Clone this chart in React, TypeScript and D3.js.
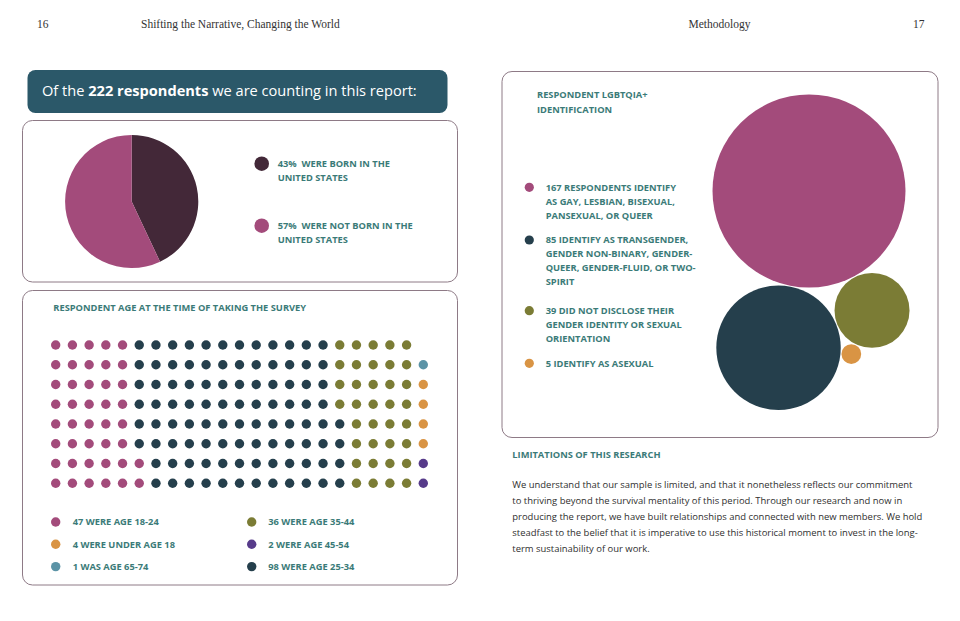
import React from "react";
import * as d3 from "d3";

// ---------- DATA ----------
const pieLabels = ["43%\u00a0 WERE BORN IN THE|UNITED STATES", "57%\u00a0 WERE NOT BORN IN THE|UNITED STATES"];
const pieValues = [43, 57];

const ageCategories = ["18-24", "25-34", "35-44", "45-54", "under 18", "65-74"];
const ageDotCounts = [42, 98, 36, 2, 4, 1]; // dots as drawn in the waffle, filled bottom-up by column
const ageLegendLeft = ["47 WERE AGE 18-24", "4 WERE UNDER AGE 18", "1 WAS AGE 65-74"];
const ageLegendLeftCat = ["18-24", "under 18", "65-74"];
const ageLegendRight = ["36 WERE AGE 35-44", "2 WERE AGE 45-54", "98 WERE AGE 25-34"];
const ageLegendRightCat = ["35-44", "45-54", "25-34"];

const lgbtCategories = ["gay", "trans", "undisclosed", "asexual"];
const lgbtValues = [167, 85, 39, 5];
const lgbtLabels = [
  ["167 RESPONDENTS IDENTIFY", "AS GAY, LESBIAN, BISEXUAL,", "PANSEXUAL, OR QUEER"],
  ["85 IDENTIFY AS TRANSGENDER,", "GENDER NON-BINARY, GENDER-", "QUEER, GENDER-FLUID, OR TWO-", "SPIRIT"],
  ["39 DID NOT DISCLOSE THEIR", "GENDER IDENTITY OR SEXUAL", "ORIENTATION"],
  ["5 IDENTIFY AS ASEXUAL"],
];

const bodyLines = [
  "We understand that our sample is limited, and that it nonetheless reflects our commitment",
  "to thriving beyond the survival mentality of this period. Through our research and now in",
  "producing the report, we have built relationships and connected with new members. We hold",
  "steadfast to the belief that it is imperative to use this historical moment to invest in the long-",
  "term sustainability of our work.",
];

// ---------- STYLE ----------
const PINK = "#a34b7b";
const SLATE = "#253f4c";
const OLIVE = "#7b7c35";
const ORANGE = "#d99444";
const PURPLE = "#573b8a";
const STEEL = "#5b93a6";
const PIEDARK = "#432838";
const TEAL = "#3b7b78";
const BORDER = "#8e7a86";
const HEADER = "#2b5869";
const SANS = "'Open Sans', 'Noto Sans', sans-serif";
const SERIF = "'Liberation Serif', 'DejaVu Serif', serif";

const ageColor = d3.scaleOrdinal<string, string>()
  .domain(ageCategories)
  .range([PINK, SLATE, OLIVE, PURPLE, ORANGE, STEEL]);
const lgbtColor = d3.scaleOrdinal<string, string>()
  .domain(lgbtCategories)
  .range([PINK, SLATE, OLIVE, ORANGE]);

type Circ = { x: number; y: number; r: number; c: string };

function tangent(a: Circ, b: Circ, r: number, pad: number, side: number) {
  const ra = a.r + r + pad, rb = b.r + r + pad;
  const dx = b.x - a.x, dy = b.y - a.y;
  const d = Math.hypot(dx, dy);
  const x = (d * d + ra * ra - rb * rb) / (2 * d);
  const h = Math.sqrt(Math.max(0, ra * ra - x * x));
  const ux = dx / d, uy = dy / d;
  return { x: a.x + ux * x - side * uy * h, y: a.y + uy * x + side * ux * h };
}

export default function App() {
  const W = 960, H = 621;

  // pie
  const pie = d3.pie<number>().sort(null).value((d) => d)(pieValues);
  const arc = d3.arc<d3.PieArcDatum<number>>().innerRadius(0).outerRadius(66.6);
  const pieColors = [PIEDARK, PINK];

  // waffle
  const nCols = 23, nRows = 8;
  const xW = d3.scalePoint<number>().domain(d3.range(nCols)).range([55.7, 423.3]);
  const yW = d3.scalePoint<number>().domain(d3.range(nRows)).range([345, 483.3]);
  const dots: { col: number; row: number; cat: string }[] = [];
  let k = 0;
  ageDotCounts.forEach((n, ci) => {
    for (let i = 0; i < n; i++, k++) {
      const col = Math.floor(k / nRows);
      const row = nRows - 1 - (k % nRows);
      dots.push({ col, row, cat: ageCategories[ci] });
    }
  });

  // bubbles
  const rScale = d3.scalePow().exponent(0.65).domain([0, d3.max(lgbtValues) as number]).range([0, 96.5]);
  const pad = 1;
  const ang = (101 * Math.PI) / 180;
  const c0: Circ = { x: 809, y: 191, r: rScale(lgbtValues[0]), c: lgbtColor(lgbtCategories[0]) };
  const r1 = rScale(lgbtValues[1]);
  const c1: Circ = {
    x: c0.x + (c0.r + r1 + pad) * Math.cos(ang),
    y: c0.y + (c0.r + r1 + pad) * Math.sin(ang),
    r: r1, c: lgbtColor(lgbtCategories[1]),
  };
  const r2 = rScale(lgbtValues[2]);
  const p2 = tangent(c0, c1, r2, pad, -1);
  const c2: Circ = { ...p2, r: r2, c: lgbtColor(lgbtCategories[2]) };
  const r3 = rScale(lgbtValues[3]);
  const p3 = tangent(c1, c2, r3, pad, 1);
  const c3: Circ = { ...p3, r: r3, c: lgbtColor(lgbtCategories[3]) };
  const bubbles = [c0, c1, c2, c3];

  const labelStyle = { fontFamily: SANS, fontWeight: 700, fontSize: 9.3, fill: TEAL } as const;

  const lgbtTop = [187.3, 240, 310.7, 363.3];

  return (
    <svg width={W} height={H} style={{ position: "absolute", left: 0, top: 0, background: "#fff" }}>
      <rect width={W} height={H} fill="#fff" />
      {/* page headers */}
      <g style={{ fontFamily: SERIF, fontSize: 11.5, fill: "#333" }}>
        <text x={37} y={28}>16</text>
        <text x={141} y={28}>Shifting the Narrative, Changing the World</text>
        <text x={688.5} y={28}>Methodology</text>
        <text x={913} y={28}>17</text>
      </g>

      {/* header banner */}
      <rect x={27.5} y={70} width={420} height={43} rx={8} fill={HEADER} />
      <text x={42} y={96} style={{ fontFamily: SANS, fontSize: 14.6, fill: "#fff" }}>
        Of the <tspan fontWeight={700}>222 respondents</tspan> we are counting in this report:
      </text>

      {/* box 1 : pie */}
      <rect x={22.5} y={120.5} width={435} height={161.5} rx={10} fill="none" stroke={BORDER} strokeWidth={1} />
      <g transform="translate(131.7,201.5)">
        {pie.map((p, i) => (
          <path key={i} d={arc(p) as string} fill={pieColors[i]} />
        ))}
      </g>
      {pieLabels.map((lab, i) => {
        const y0 = 163.7 + i * 62;
        return (
          <g key={i}>
            <circle cx={261.7} cy={y0} r={7.3} fill={pieColors[i]} />
            {lab.split("|").map((l, j) => (
              <text key={j} x={277.7} y={y0 + j * 14} dy="0.35em" style={labelStyle}>{l}</text>
            ))}
          </g>
        );
      })}

      {/* box 2 : waffle */}
      <rect x={22.5} y={290.5} width={435} height={294.5} rx={10} fill="none" stroke={BORDER} strokeWidth={1} />
      <text x={53.3} y={307.5} dy="0.35em" style={labelStyle}>RESPONDENT AGE AT THE TIME OF TAKING THE SURVEY</text>
      {dots.map((d, i) => (
        <circle key={i} cx={xW(d.col)} cy={yW(d.row)} r={4.7} fill={ageColor(d.cat)} />
      ))}
      {ageLegendLeft.map((l, i) => (
        <g key={"l" + i}>
          <circle cx={55.7} cy={522 + i * 22.3} r={4.7} fill={ageColor(ageLegendLeftCat[i])} />
          <text x={72.7} y={522 + i * 22.3} dy="0.35em" style={labelStyle}>{l}</text>
        </g>
      ))}
      {ageLegendRight.map((l, i) => (
        <g key={"r" + i}>
          <circle cx={251.7} cy={522 + i * 22.3} r={4.7} fill={ageColor(ageLegendRightCat[i])} />
          <text x={268.3} y={522 + i * 22.3} dy="0.35em" style={labelStyle}>{l}</text>
        </g>
      ))}

      {/* box 3 : bubbles */}
      <rect x={502} y={71.5} width={436} height={366} rx={10} fill="none" stroke={BORDER} strokeWidth={1} />
      <text x={537} y={95} dy="0.35em" style={labelStyle}>RESPONDENT LGBTQIA+</text>
      <text x={537} y={110} dy="0.35em" style={labelStyle}>IDENTIFICATION</text>
      {bubbles.map((b, i) => (
        <circle key={i} cx={b.x} cy={b.y} r={b.r} fill={b.c} />
      ))}
      {lgbtLabels.map((lines, i) => (
        <g key={i}>
          <circle cx={529.3} cy={lgbtTop[i]} r={4.6} fill={lgbtColor(lgbtCategories[i])} />
          {lines.map((l, j) => (
            <text key={j} x={545.7} y={lgbtTop[i] + j * 14} dy="0.35em" style={labelStyle}>{l}</text>
          ))}
        </g>
      ))}

      {/* limitations */}
      <text x={512.3} y={455} dy="0.35em" style={labelStyle}>LIMITATIONS OF THIS RESEARCH</text>
      {bodyLines.map((l, i) => (
        <text key={i} x={512.3} y={485 + i * 15.8} dy="0.35em"
          style={{ fontFamily: SANS, fontSize: 9.45, fill: "#2f2f2f" }}>{l}</text>
      ))}
    </svg>
  );
}
